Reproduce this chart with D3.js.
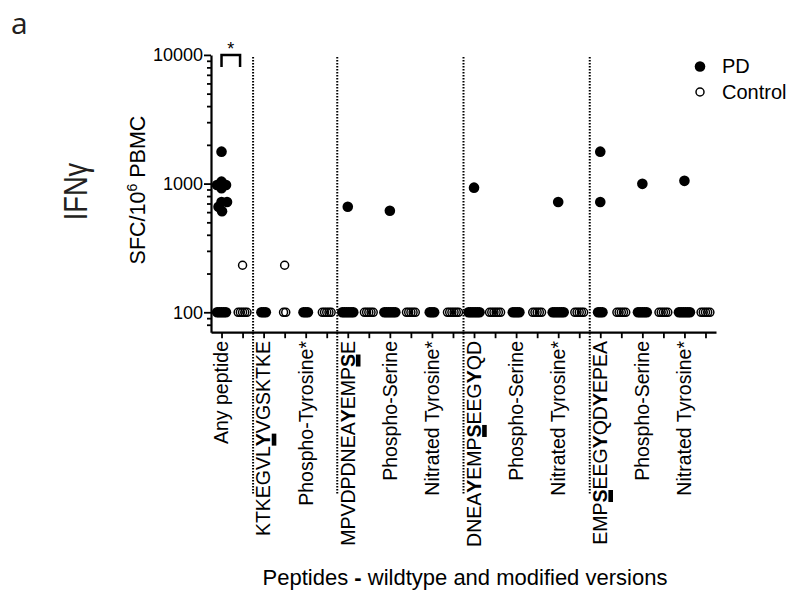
<!DOCTYPE html>
<html>
<head>
<meta charset="utf-8">
<script src="https://cdn.jsdelivr.net/npm/d3@7"></script>
<style>
  body { margin: 0; background: #fff; }
  text { font-family: "Liberation Sans", Arial, Helvetica, sans-serif; fill: #000; }
</style>
</head>
<body>
<div id="chart"></div>
<script>
// peptide labels: {X} = bold letter with bar under it, <X> = bold letter
var labels = [
    "Any peptide",
    "KTKEGVL{Y}VGSKTKE",
    "Phospho-Tyrosine*",
    "MPVDPDNEA<Y>EMP{S}E",
    "Phospho-Serine",
    "Nitrated Tyrosine*",
    "DNEA<Y>EMP{S}EEG<Y>QD",
    "Phospho-Serine",
    "Nitrated Tyrosine*",
    "EMP{S}EEG<Y>QD<Y>EPEA",
    "Phospho-Serine",
    "Nitrated Tyrosine*"
]
var groups = ["PD", "Control"]

// SFC per 10^6 PBMC, 100 = detection floor
var pdValues = [
    [1770, 1035, 975, 975, 920, 720, 720, 660, 610, 100, 100, 100, 100, 100],
    [100, 100, 100],
    [100, 100, 100],
    [660, 100, 100, 100, 100, 100, 100],
    [615, 100, 100, 100, 100, 100, 100],
    [100, 100, 100],
    [930, 100, 100, 100, 100, 100, 100],
    [100, 100, 100, 100],
    [720, 100, 100, 100, 100, 100, 100],
    [1770, 720, 100, 100, 100],
    [995, 100, 100, 100, 100, 100],
    [1050, 100, 100, 100, 100, 100, 100]
]
var ctrlValues = [
    [232, 100, 100, 100, 100, 100],
    [232, 100, 100],
    [100, 100, 100, 100, 100],
    [100, 100, 100, 100, 100],
    [100, 100, 100, 100, 100],
    [100, 100, 100, 100, 100, 100],
    [100, 100, 100, 100, 100, 100],
    [100, 100, 100, 100, 100],
    [100, 100, 100, 100, 100],
    [100, 100, 100, 100, 100],
    [100, 100, 100, 100, 100],
    [100, 100, 100, 100, 100]
]
var majorTicks = [100, 1000, 10000]
var minorTicks = [80, 90, 200, 300, 400, 500, 600, 700, 800, 900,
    2000, 3000, 4000, 5000, 6000, 7000, 8000, 9000]
var dividersBefore = [1, 3, 6, 9] // dotted lines before these peptides
var floorValue = 100

var width = 795, height = 596
var svg = d3.select("#chart").append("svg")
    .attr("width", width).attr("height", height)

var keys = []
labels.forEach(function (l, i) { groups.forEach(function (g) { keys.push(i + "-" + g) }) })

var x = d3.scalePoint().domain(keys).range([211, 716]).padding(0.5)
var y = d3.scaleLog().domain([70, 10000]).range([332.2, 54.9])

// y axis
svg.append("g")
    .attr("transform", "translate(211,0)")
    .call(d3.axisLeft(y).tickValues(minorTicks).tickSize(4).tickSizeOuter(0).tickFormat(""))
    .call(g => g.select(".domain").remove())
    .selectAll("line").attr("stroke-width", 1.8)
var yAxis = svg.append("g")
    .attr("transform", "translate(211,0)")
    .call(d3.axisLeft(y).tickValues(majorTicks).tickSize(7).tickSizeOuter(0)
        .tickPadding(1).tickFormat(d3.format("d")))
yAxis.select(".domain").attr("stroke-width", 2.2)
yAxis.selectAll("line").attr("stroke-width", 1.8)
yAxis.selectAll("text").attr("font-size", 18).attr("font-family", null)

// x axis
var xAxis = svg.append("g")
    .attr("transform", "translate(0,332.2)")
    .call(d3.axisBottom(x).tickSize(6).tickSizeOuter(0).tickFormat(""))
xAxis.select(".domain").attr("stroke-width", 2.2)
xAxis.selectAll("line").attr("stroke-width", 1.8)

// dotted separators
dividersBefore.forEach(function (i) {
    var xm = (x((i - 1) + "-Control") + x(i + "-PD")) / 2
    svg.append("line")
        .attr("x1", xm).attr("x2", xm).attr("y1", 57).attr("y2", 494)
        .attr("stroke", "#000").attr("stroke-width", 2)
        .attr("stroke-dasharray", "1.5,1.5")
})

// x tick labels, rotated
var labelSize = 19.5
labels.forEach(function (l, i) {
    var g = svg.append("g")
        .attr("transform", "translate(" + x(i + "-PD") + ",341) rotate(-90)")
    var t = g.append("text").attr("text-anchor", "end").attr("dy", "0.35em").attr("font-size", labelSize)
    var parts = l.split(/(\{.\}|<.>)/).filter(p => p.length)
    var barChars = [], pos = 0
    parts.forEach(function (p) {
        if (p[0] == "{" || p[0] == "<") {
            t.append("tspan").attr("font-weight", "bold").text(p[1])
            if (p[0] == "{") barChars.push(pos)
            pos += 1
        } else {
            t.append("tspan").text(p)
            pos += p.length
        }
    })
    barChars.forEach(function (c) {
        var ext = t.node().getExtentOfChar(c)
        g.append("rect")
            .attr("x", ext.x + 0.5).attr("width", ext.width - 1)
            .attr("y", labelSize * 0.35 + 1.3).attr("height", 4.6)
            .attr("fill", "#000")
    })
})

// scatter points: floor values spread in a row, the rest swarmed
function swarm(values, cx, minDist, floorStep) {
    var pts = []
    var floor = values.filter(v => v == floorValue)
    floor.forEach(function (v, j) {
        pts.push({ x: cx + (j - (floor.length - 1) / 2) * floorStep, y: y(v) })
    })
    var placed = []
    values.filter(v => v != floorValue).sort((a, b) => b - a).forEach(function (v) {
        var cy = y(v), dx = 0
        for (var k = 0; k < 100; k++) {
            dx = (k % 2 == 1 ? 1 : -1) * Math.ceil(k / 2) * 0.5
            if (placed.every(p => Math.hypot(p.x - (cx + dx), p.y - cy) >= minDist)) break
        }
        var p = { x: cx + dx, y: cy }
        placed.push(p)
        pts.push(p)
    })
    return pts
}

labels.forEach(function (l, i) {
    svg.append("g").selectAll("circle")
        .data(swarm(ctrlValues[i], x(i + "-Control"), 5.5, 2.2))
        .enter().append("circle")
        .attr("cx", d => d.x).attr("cy", d => d.y).attr("r", 4)
        .attr("fill", "none").attr("stroke", "#000").attr("stroke-width", 1.5)
    svg.append("g").selectAll("circle")
        .data(swarm(pdValues[i], x(i + "-PD"), 5.5, 2.2))
        .enter().append("circle")
        .attr("cx", d => d.x).attr("cy", d => d.y).attr("r", 5.3)
        .attr("fill", "#000")
})

// significance bracket
var bx1 = x("0-PD"), bx2 = x("0-Control") - 2.5
svg.append("path")
    .attr("d", "M" + bx1 + ",67V55H" + bx2 + "V67")
    .attr("fill", "none").attr("stroke", "#000").attr("stroke-width", 2.5)
svg.append("text").attr("x", (bx1 + bx2) / 2).attr("y", 55)
    .attr("text-anchor", "middle").attr("font-size", 18).text("*")

// legend
var legend = svg.append("g").attr("transform", "translate(700,0)")
legend.append("circle").attr("cy", 66.5).attr("r", 5.3).attr("fill", "#000")
legend.append("circle").attr("cy", 92).attr("r", 4)
    .attr("fill", "none").attr("stroke", "#000").attr("stroke-width", 1.5)
legend.append("text").attr("x", 22).attr("y", 73).attr("font-size", 20).text("PD")
legend.append("text").attr("x", 22).attr("y", 98.5).attr("font-size", 20).text("Control")

// axis titles
var xt = svg.append("text").attr("x", 465).attr("y", 585)
    .attr("text-anchor", "middle").attr("font-size", 22)
xt.append("tspan").text("Peptides ")
xt.append("tspan").attr("font-weight", "bold").text("-")
xt.append("tspan").text(" wildtype and modified versions")

var yt = svg.append("text")
    .attr("transform", "translate(145,190) rotate(-90)")
    .attr("text-anchor", "middle").attr("font-size", 21.5)
yt.append("tspan").text("SFC/10")
yt.append("tspan").attr("font-size", 14).attr("dy", -8).text("6")
yt.append("tspan").attr("dy", 8).text(" PBMC")

svg.append("text")
    .attr("transform", "translate(86.5,191.5) rotate(-90) scale(0.8,1)")
    .attr("text-anchor", "middle").attr("font-size", 34)
    .style("fill", "#231f20").text("IFNγ")

// panel letter
svg.append("text").attr("x", 11).attr("y", 34)
    .attr("font-size", 30).style("font-family", "'Open Sans', sans-serif")
    .style("fill", "#231f20").text("a")
</script>
</body>
</html>
